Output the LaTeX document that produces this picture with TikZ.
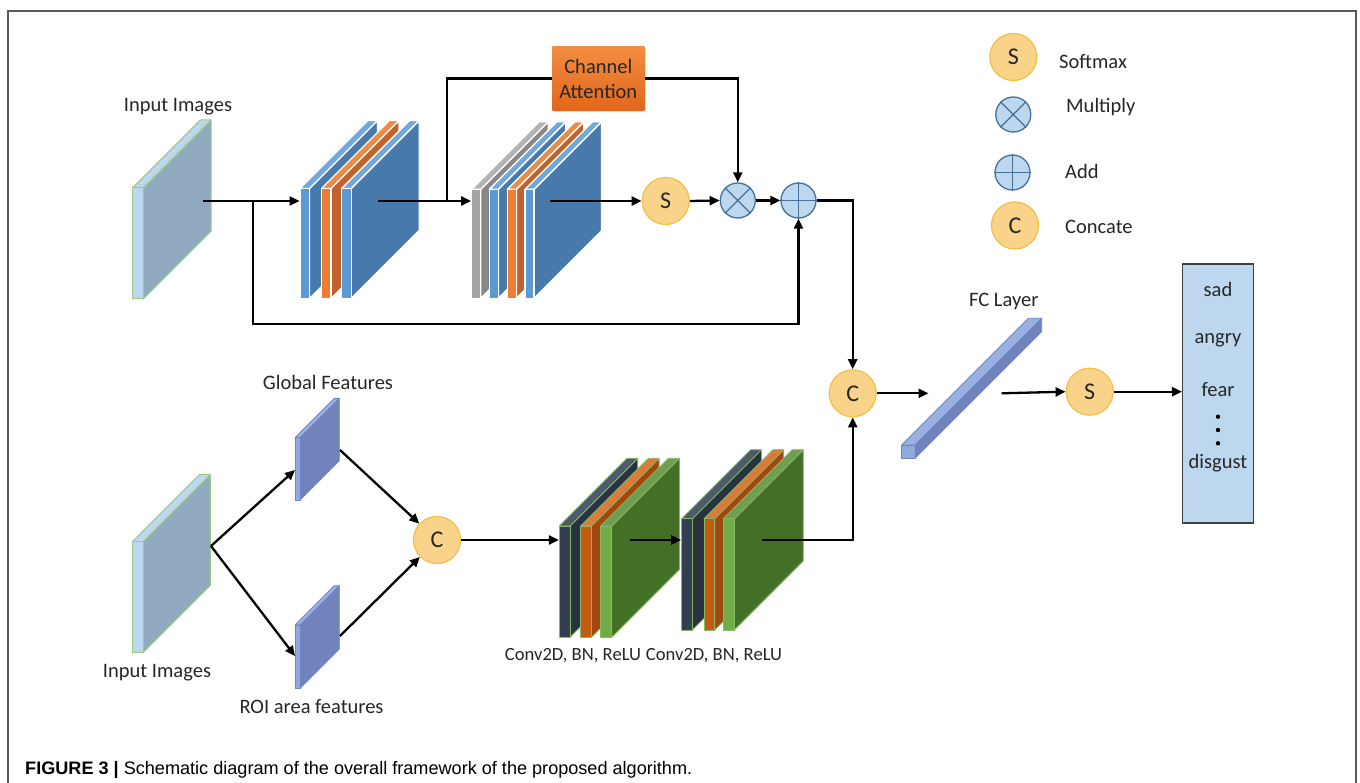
\documentclass[tikz,border=0pt]{standalone}
\usepackage{fontspec}
\setmainfont{Carlito}
\newfontfamily\capfont{Liberation Sans}
\usetikzlibrary{arrows.meta,shadows}

\definecolor{txt}{HTML}{262626}
\definecolor{opFill}{HTML}{FAD38B}
\definecolor{opEdge}{HTML}{F2BF45}
\definecolor{mFill}{HTML}{BDD7EE}
\definecolor{mEdge}{HTML}{41719C}
\definecolor{frameC}{HTML}{5A5A5A}
% slab colours
\definecolor{inFront}{HTML}{BDD7EE}
\definecolor{inSide}{HTML}{90A9BF}
\definecolor{inEdge}{HTML}{9CC982}
\definecolor{bFront}{HTML}{5B9BD5}
\definecolor{bTop}{HTML}{6FA8DC}
\definecolor{bSide}{HTML}{4779AB}
\definecolor{oFront}{HTML}{ED7D31}
\definecolor{oTop}{HTML}{F08A40}
\definecolor{oSide}{HTML}{C0622A}
\definecolor{gFront}{HTML}{A5A5A5}
\definecolor{gTop}{HTML}{B2B2B2}
\definecolor{gSide}{HTML}{878787}
\definecolor{dFront}{HTML}{333F50}
\definecolor{dTop}{HTML}{4C5A6B}
\definecolor{dSide}{HTML}{28333F}
\definecolor{roFront}{HTML}{C55A11}
\definecolor{roTop}{HTML}{DD7A37}
\definecolor{roSide}{HTML}{A2470D}
\definecolor{grFront}{HTML}{70AD47}
\definecolor{grTop}{HTML}{6E9E4E}
\definecolor{grSide}{HTML}{446F27}
\definecolor{grEdge}{HTML}{86B866}
\definecolor{fFront}{HTML}{8FAADC}
\definecolor{fTop}{HTML}{9CB1E3}
\definecolor{fSide}{HTML}{7282BA}
\definecolor{fEdge}{HTML}{6F84C6}
\definecolor{outFill}{HTML}{BDD7EE}
\definecolor{outEdge}{HTML}{404040}
\definecolor{caTop}{HTML}{F28D40}
\definecolor{caBot}{HTML}{E2661C}

% \drawslab{x}{y}{width}{height}{depth}{front}{side}{top}{edge options}
% (x,y) is the top-left corner of the front face
\newcommand{\drawslab}[9]{%
  \filldraw[fill=#7, #9, line join=round]
    (#1+#3,#2) -- ++(#5,-#5) -- ++(0,#4) -- ++(-#5,#5) -- cycle;
  \filldraw[fill=#8, #9, line join=round]
    (#1,#2) -- ++(#3,0) -- ++(#5,-#5) -- ++(-#3,0) -- cycle;
  \filldraw[fill=#6, #9, line join=round]
    (#1,#2) rectangle ++(#3,#4);
}

\begin{document}
\begin{tikzpicture}[x=1pt,y=-1pt,
  lbl/.style={font=\fontsize{20.5}{24}\selectfont, text=txt, inner sep=0pt},
  small/.style={font=\fontsize{18.6}{22}\selectfont, text=txt, inner sep=0pt},
  op/.style={circle, draw=opEdge, fill=opFill, line width=1.2pt,
    minimum size=47pt, inner sep=0pt, font=\fontsize{24}{26}\selectfont, text=txt},
  mop/.style={circle, draw=mEdge, fill=mFill, line width=1.3pt,
    minimum size=35pt, inner sep=0pt},
  cross/.style={draw=mEdge, line width=1.3pt},
  ln/.style={line width=2.3pt, draw=black},
  arr/.style={ln, -{Triangle[length=10pt,width=9pt]}},
  white edge/.style={draw=white, line width=1.4pt},
  in edge/.style={draw=inEdge, line width=1pt},
  green edge/.style={draw=grEdge, line width=0.8pt},
  fc edge/.style={draw=fEdge, line width=0.8pt},
]
\useasboundingbox (0,0) rectangle (1360,783);
\fill[white] (0,0) rectangle (1360,783);

% outer frame (open at the bottom)
\draw[frameC, line width=2pt] (8,790) -- (8,11) -- (1355.5,11) -- (1355.5,790);

% ---------------- upper branch ----------------
\node[lbl] (lin1) at (178,107) {Input Images};
\drawslab{132.3}{188}{10.8}{111}{68}{inFront}{inSide}{inFront}{in edge}

% first convolution stack
\drawslab{300}{188.5}{9.5}{110}{68}{bFront}{bSide}{bTop}{white edge}
\drawslab{321.5}{188.5}{9.5}{110}{68}{oFront}{oSide}{oTop}{white edge}
\drawslab{341.7}{188.5}{9.5}{110}{68}{bFront}{bSide}{bTop}{white edge}

% second convolution stack
\drawslab{471.7}{189.3}{9}{109}{67.5}{gFront}{gSide}{gTop}{white edge}
\drawslab{489.3}{189.3}{9}{109}{67.5}{bFront}{bSide}{bTop}{white edge}
\drawslab{507.3}{189.3}{9}{109}{67.5}{oFront}{oSide}{oTop}{white edge}
\drawslab{525}{189.3}{9}{109}{67.5}{bFront}{bSide}{bTop}{white edge}

\node[draw=none, top color=caTop, bottom color=caBot, minimum width=92pt,
  minimum height=64pt, inner sep=0pt, align=center,
  font=\fontsize{20.5}{25}\selectfont, text=txt,
  drop shadow={opacity=0.25, shadow xshift=1.5pt, shadow yshift=-1.5pt}]
  (ca) at (598.3,78.5) {Channel\\Attention};

\node[op] (sm1) at (665.7,201) {S};
\node[mop] (mul) at (737.8,200.5) {};
\draw[cross] (mul.north east) -- (mul.south west) (mul.north west) -- (mul.south east);
\node[mop] (add) at (798.5,200.5) {};
\draw[cross] (add.north) -- (add.south) (add.west) -- (add.east);

\coordinate (i1o) at (203,201);
\coordinate (br1) at (253,201);
\coordinate (s1i) at (299.5,201);
\coordinate (s1o) at (378,201);
\coordinate (br2) at (447,201);
\coordinate (s2i) at (471.2,201);
\coordinate (s2o) at (550,201);
\coordinate (loopy) at (253,324);

\draw[arr] (i1o) -- (s1i);
\draw[arr] (br1) -- (loopy) -| (add.south);
\draw[arr] (s1o) -- (s2i);
\draw[ln] (br2) -- (br2 |- ca.west) -- (ca.west);
\draw[arr] (ca.east) -| (mul.north);
\draw[arr] (s2o) -- (sm1.west);
\draw[arr] (sm1.east) -- (mul.west);
\draw[arr] (mul.east) -- (add.west);

% ---------------- legend ----------------
\node[op] (lgS) at (1013.3,57) {S};
\node[lbl, anchor=west] (lgSt) at (1059,61.5) {Softmax};
\node[mop] (lgM) at (1013.3,114.5) {};
\draw[cross] (lgM.north east) -- (lgM.south west) (lgM.north west) -- (lgM.south east);
\node[lbl, anchor=west] (lgMt) at (1066,107) {Multiply};
\node[mop] (lgA) at (1012.5,172.5) {};
\draw[cross] (lgA.north) -- (lgA.south) (lgA.west) -- (lgA.east);
\node[lbl, anchor=west] (lgAt) at (1065,171.5) {Add};
\node[op] (lgC) at (1015,225.5) {C};
\node[lbl, anchor=west] (lgCt) at (1065,227) {Concate};

% ---------------- lower branch ----------------
\drawslab{132.3}{541.7}{11}{110.6}{67}{inFront}{inSide}{inFront}{in edge}
\node[lbl] (lin2) at (157,672.5) {Input Images};

\drawslab{295}{437.7}{5}{62.3}{39.3}{fFront}{fSide}{fTop}{fc edge}
\node[lbl] (lgf) at (328,382) {Global Features};
\drawslab{295}{625}{5}{63.3}{39.3}{fFront}{fSide}{fTop}{fc edge}
\node[lbl] (lroi) at (311.5,707) {ROI area features};

\node[op] (cat1) at (437,540) {C};

% third and fourth convolution stacks
\drawslab{559.3}{526}{10.7}{111.3}{67.7}{dFront}{dSide}{dTop}{green edge}
\drawslab{580.7}{526}{10.7}{111.3}{67.7}{roFront}{roSide}{roTop}{green edge}
\drawslab{600.7}{526}{11}{111.3}{67.7}{grFront}{grSide}{grTop}{green edge}
\drawslab{681.7}{518.7}{10.7}{111.3}{69}{dFront}{dSide}{dTop}{green edge}
\drawslab{704}{518.7}{10.7}{111.3}{69}{roFront}{roSide}{roTop}{green edge}
\drawslab{723.3}{518.7}{11}{111.3}{69}{grFront}{grSide}{grTop}{green edge}
\node[small] (lcv1) at (573,655.5) {Conv2D, BN, ReLU};
\node[small] (lcv2) at (714,655.5) {Conv2D, BN, ReLU};

\coordinate (i2o) at (211,546);
\coordinate (gfi) at (295,470);
\coordinate (roii) at (295,656);
\coordinate (gfo) at (340,450);
\coordinate (roio) at (340,636);
\coordinate (g1i) at (558.8,540);
\coordinate (g1o) at (630,540);
\coordinate (g2i) at (681.2,540);
\coordinate (g2o) at (762,540);

\draw[arr] (i2o) -- (gfi);
\draw[arr] (i2o) -- (roii);
\draw[arr] (gfo) -- (cat1);
\draw[arr] (roio) -- (cat1);
\draw[arr] (cat1.east) -- (g1i);
\draw[arr] (g1o) -- (g2i);

% ---------------- head ----------------
\node[op] (cat2) at (852.7,393.3) {C};
\draw[arr] (add.east) -| (cat2.north);
\draw[arr] (g2o) -| (cat2.south);

\drawslab{901.7}{445}{13.3}{13.3}{126.7}{fFront}{fSide}{fTop}{fc edge}
\node[lbl] (lfc) at (1003.8,301.5) {FC Layer};
\coordinate (fci) at (928.5,393.3);
\coordinate (fco) at (1001.7,393.3);
\draw[arr] (cat2.east) -- (fci);

\node[op] (sm2) at (1089.7,391.7) {S};
\draw[arr] (fco) -- (sm2.west);

\node[draw=outEdge, fill=outFill, line width=1.5pt, minimum width=70.6pt,
  minimum height=258.7pt, inner sep=0pt] (out) at (1218,393.4) {};
\draw[arr] (sm2.east) -- (out.west |- sm2.east);
\node[lbl] (o1) at (1218,289.5) {sad};
\node[lbl] (o2) at (1218,340) {angry};
\node[lbl] (o3) at (1218,389.5) {fear};
\fill[black] (1218,416.7) circle (2.2) (1218,430) circle (2.2) (1218,443.3) circle (2.2);
\node[lbl] (o4) at (1218,463.5) {disgust};

% ---------------- caption ----------------
\node[anchor=base west, inner sep=0pt, font=\capfont\fontsize{18.1}{20}\selectfont,
  text=black] (cap) at (25,774)
  {\textbf{FIGURE 3 |} Schematic diagram of the overall framework of the proposed algorithm.};
\end{tikzpicture}
\end{document}
